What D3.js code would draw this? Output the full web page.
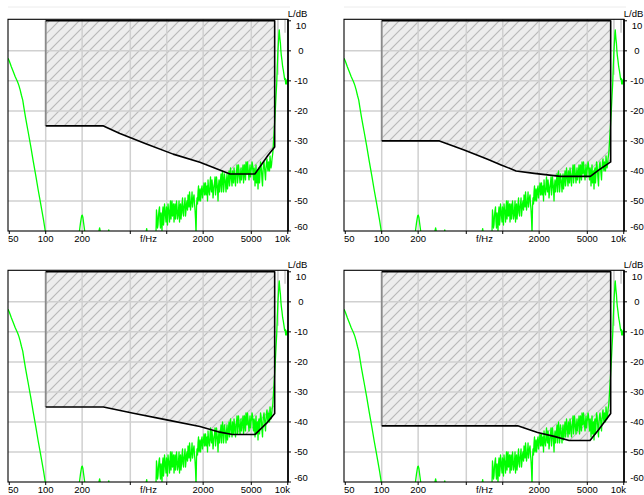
<!DOCTYPE html>
<html>
<head>
<meta charset="utf-8">
<script src="https://cdn.jsdelivr.net/npm/d3@7"></script>
<style>
  body { margin: 0; background: #fff; }
  svg { display: block; font-family: Arial, "Liberation Sans", sans-serif; }
</style>
</head>
<body>
<div id="chart"></div>
<script>
// axis ticks
const freqTicks = [50, 100, 200, 500, 1000, 2000, 5000, 10000];
const freqLabels = [[50, "50"], [100, "100"], [200, "200"], [707, "f/Hz"], [2000, "2000"], [5000, "5000"], [10000, "10k"]];
const freqGrid = [100, 200, 500, 1000, 2000, 5000];
const levelTicks = [10, 0, -10, -20, -30, -40, -50, -60];
const levelGrid = [0, -10, -20, -30, -40, -50];
const markerFreqs = [[8300, -8], [9500, 6]];   // short grey markers near the tone

// measured spectrum (same in all four panels): [f/Hz, L/dB]
const spectrumMain = [
  [48.8,-2.5],[50,-3.4],[52,-5.3],[54,-7],[56,-8.6],[58.5,-10.3],[60,-11.5],[61.5,-13],[63,-14.8],
  [64.6,-16.4],[66,-18.8],[68,-22],[70,-24.8],[71.4,-26.7],[75,-31.5],[79,-36.9],[83,-41.8],
  [86.9,-46.6],[90,-50],[93,-53.2],[96,-56.4],[98.7,-59.5],[101,-62],[104,-65],[150,-68],[185,-63],
  [190,-60],[194,-57.2],[198,-55],[200.5,-54.7],[203,-55.5],[206,-57.5],[210,-60],[214,-63],
  [250,-64],[272,-61],[279,-59],[284,-60.5],[300,-63],[326,-61],[332,-59.6],[338,-61.5],
  [400,-66],[600,-64],[672,-61],[683,-59.2],[694,-61.5],[760,-65],[800,-63],
  [816,-60],[831,-55],[847,-58],[864,-53],[880,-57],[897,-54],[914,-60],[932,-52],[950,-56],
  [968,-53],[987,-57],[1006,-55],[1025,-51],[1045,-54],[1065,-52],[1085,-56],[1106,-50],
  [1127,-53],[1149,-57],[1171,-51],[1194,-54],[1217,-52],[1240,-55],[1264,-50],[1288,-53],
  [1313,-56],[1338,-51],[1364,-54],[1390,-52],[1417,-49],[1444,-53],[1472,-50],[1500,-48],
  [1529,-52],[1558,-49],[1588,-51],[1619,-47],[1650,-50],[1681,-48],[1714,-53],[1747,-61],
  [1780,-49],[1814,-47],[1849,-50],[1885,-46],[1921,-48],[1958,-45],[1995,-47],[2034,-44],
  [2073,-46],[2113,-48],[2153,-45],[2195,-43],[2237,-47],[2280,-44],[2323,-46],[2368,-43],
  [2414,-49],[2460,-45],[2507,-42],[2555,-46],[2604,-44],[2654,-50],[2705,-43],[2757,-45],
  [2810,-41],[2864,-44],[2919,-42],[2975,-45],[3032,-43],[3090,-47],[3150,-41],[3210,-44],
  [3272,-40],[3335,-43],[3399,-41],[3464,-45],[3531,-42],[3599,-39],[3668,-43],[3738,-41],
  [3810,-38],[3883,-42],[3958,-40],[4034,-44],[4111,-39],[4190,-41],[4271,-38],[4353,-42],
  [4436,-40],[4521,-37],[4608,-41],[4697,-39],[4787,-43],[4879,-38],[4973,-40],[5068,-37],
  [5166,-41],[5265,-39],[5366,-45],[5469,-38],[5574,-42],[5681,-46],[5790,-39],[5901,-41],
  [6015,-38],[6130,-43],[6248,-40],[6368,-37],[6490,-41],[6615,-39],[6742,-36],[6871,-40],
  [7003,-38],[7138,-35],[7275,-39],[7415,-36],
  [7530,-34],[7700,-27.5],[7900,-19.7],[8000,-15],[8106,-10.9],[8200,-5],[8300,0],[8400,3.5],
  [8460,6],[8508,7],[8560,5.5],[8620,4],[8700,2.5],[8780,0],[8850,-1.5],[8950,-3],[9080,-5.3],
  [9200,-6.5],[9320,-8],[9430,-9.5],[9540,-9.2],[9620,-11],[9700,-10],[9800,-11],[9880,-9.5],
  [10000,-10.5]
];
// extra bins in between, noise region
const spectrumMid = [
  [823,-53],[839,-59],[855,-55],[872,-52],[888,-59],[905,-56],[923,-54],[941,-58],[959,-51],
  [977,-55],[996,-52],[1015,-58],[1035,-53],[1055,-57],[1075,-50],[1095,-53],[1116,-55],
  [1138,-51],[1160,-54],[1182,-56],[1205,-50],[1228,-56],[1252,-53],[1276,-57],[1300,-51],
  [1325,-54],[1351,-49],[1377,-55],[1403,-51],[1430,-55],[1458,-51],[1486,-53],[1514,-50],
  [1543,-47],[1573,-53],[1603,-50],[1634,-52],[1665,-49],[1697,-51],[1730,-56],[1763,-52],
  [1797,-51],[1831,-45],[1867,-48],[1903,-50],[1939,-46],[1976,-49],[2014,-46],[2053,-48],
  [2093,-44],[2133,-47],[2174,-50],[2216,-46],[2258,-48],[2301,-42],[2345,-47],[2391,-45],
  [2437,-47],[2483,-44],[2531,-48],[2579,-42],[2629,-46],[2679,-45],[2731,-47],[2783,-43],
  [2837,-47],[2891,-40],[2947,-47],[3003,-41],[3061,-44],[3120,-43],[3180,-46],[3241,-42],
  [3303,-45],[3367,-39],[3431,-43],[3497,-40],[3565,-44],[3633,-41],[3703,-45],[3774,-40],
  [3846,-44],[3920,-38],[3996,-42],[4072,-41],[4150,-43],[4230,-40],[4312,-44],[4394,-38],
  [4478,-43],[4564,-39],[4652,-37],[4742,-41],[4833,-40],[4926,-42],[5020,-39],[5117,-38],
  [5215,-43],[5315,-40],[5417,-41],[5521,-44],[5627,-40],[5735,-40],[5845,-44],[5958,-37],
  [6072,-40],[6189,-45],[6308,-38],[6429,-39],[6552,-43],[6678,-37],[6806,-39],[6937,-37],
  [7070,-40],[7206,-37],[7345,-38]
];
const spectrum = spectrumMain.concat(spectrumMid).sort((a, b) => a[0] - b[0]);

// limit masks (lower boundary of the hatched area), [f/Hz, L/dB]
const maskTop = 10;
const mask1 = [[100,-25],[300,-25],[410,-27.5],[680,-31],[1130,-34.4],[1880,-37.1],[3330,-41],[5350,-41],[6900,-34.7],[7800,-32]];
const mask2 = [[100,-30],[300,-30],[480,-33],[750,-36.1],[970,-38],[1290,-40],[1820,-40.8],[3000,-41.8],[5300,-41.8],[6200,-39.7],[7800,-37]];
const mask3 = [[100,-35],[300,-35],[530,-37.1],[1000,-39.3],[1880,-41.5],[2750,-43.4],[3500,-44.2],[5350,-44.2],[6700,-40.4],[7800,-37.2]];
const mask4 = [[100,-41.3],[1330,-41.3],[1940,-43.5],[2660,-44.8],[3540,-46.2],[5260,-46.2],[6200,-42.6],[7800,-37.2]];

const panels = [
  { col: 0, row: 0, mask: mask1 },
  { col: 1, row: 0, mask: mask2 },
  { col: 0, row: 1, mask: mask3 },
  { col: 1, row: 1, mask: mask4 }
];

const W = 644, H = 495;
const colStep = 336, rowStep = 251;

const svg = d3.select("#chart").append("svg")
  .attr("width", W).attr("height", H);

const defs = svg.append("defs");
const pat = defs.append("pattern")
  .attr("id", "hatch")
  .attr("patternUnits", "userSpaceOnUse")
  .attr("width", 10).attr("height", 10);
pat.append("rect").attr("width", 10).attr("height", 10).attr("fill", "#ededed");
pat.append("path")
  .attr("d", "M-1,1 l2,-2 M0,10 l10,-10 M9,11 l2,-2")
  .attr("stroke", "#b9b9b9").attr("stroke-width", 1.2);

panels.forEach(function(p, i) {
  const ox = p.col * colStep, oy = p.row * rowStep;
  const left = ox + 8, right = ox + 288, top = oy + 19.3, bottom = oy + 231;

  const x = d3.scaleLog().domain([48.8, 10050]).range([left, right]);
  const y = d3.scaleLinear().domain([-60, 10.5]).range([bottom, top]);

  const g = svg.append("g");

  defs.append("clipPath").attr("id", "clip" + i)
    .append("rect").attr("x", left).attr("y", top)
    .attr("width", right - left).attr("height", bottom - top);

  // faint line above the top panels
  if (p.row === 0) {
    g.append("line")
      .attr("x1", left).attr("x2", right + 2)
      .attr("y1", oy + 7).attr("y2", oy + 7)
      .attr("stroke", "#ececec").attr("stroke-width", 1);
  }

  // hatched area
  const m = p.mask;
  const poly = m.concat([[m[m.length - 1][0], maskTop], [m[0][0], maskTop]]);
  const line = d3.line().x(d => x(d[0])).y(d => y(d[1]));
  g.append("path")
    .attr("d", line(poly) + "Z")
    .attr("fill", "url(#hatch)");

  // grid
  g.selectAll(".hg").data(levelGrid).enter().append("line")
    .attr("x1", left).attr("x2", right)
    .attr("y1", d => y(d)).attr("y2", d => y(d))
    .attr("stroke", "#d0d0d0").attr("stroke-width", 1.5);
  g.selectAll(".vg").data(freqGrid).enter().append("line")
    .attr("x1", d => x(d)).attr("x2", d => x(d))
    .attr("y1", top).attr("y2", bottom)
    .attr("stroke", "#d0d0d0").attr("stroke-width", 1.5);
  g.selectAll(".mk").data(markerFreqs).enter().append("line")
    .attr("x1", d => x(d[0])).attr("x2", d => x(d[0]))
    .attr("y1", top).attr("y2", d => y(d[1]))
    .attr("stroke", "#c8c8c8").attr("stroke-width", 1.5);

  const clipped = g.append("g").attr("clip-path", "url(#clip" + i + ")");

  // spectrum
  clipped.append("path")
    .datum(spectrum)
    .attr("fill", "none")
    .attr("stroke", "#00ff00")
    .attr("stroke-width", 1.3)
    .attr("stroke-linejoin", "round")
    .attr("d", line);

  // mask outline: grey left edge, black elsewhere
  clipped.append("path")
    .attr("d", line([[m[0][0], maskTop], m[0]]))
    .attr("stroke", "#8a8a8a").attr("stroke-width", 1.8).attr("fill", "none");
  clipped.append("path")
    .attr("d", line(poly))
    .attr("stroke", "#000").attr("stroke-width", 1.6).attr("fill", "none")
    .attr("stroke-linejoin", "round");

  // frame
  g.append("rect")
    .attr("x", left).attr("y", top)
    .attr("width", right - left).attr("height", bottom - top)
    .attr("fill", "none").attr("stroke", "#000").attr("stroke-width", 1.1);
  g.append("line")
    .attr("x1", right).attr("x2", right).attr("y1", top).attr("y2", bottom)
    .attr("stroke", "#000").attr("stroke-width", 1.6);

  // x ticks and labels
  g.selectAll(".xt").data(freqTicks).enter().append("line")
    .attr("x1", d => x(d)).attr("x2", d => x(d))
    .attr("y1", bottom).attr("y2", bottom + 3)
    .attr("stroke", "#000").attr("stroke-width", 1);
  g.selectAll(".xl").data(freqLabels).enter().append("text")
    .attr("x", d => d[0] === 50 ? left : d[0] === 10000 ? right + 2 : x(d[0]))
    .attr("y", bottom + 10.5)
    .attr("text-anchor", d => d[0] === 50 ? "start" : d[0] === 10000 ? "end" : "middle")
    .style("font-size", "9.5px")
    .attr("fill", "#000")
    .text(d => d[1]);

  // y ticks and labels (right side)
  g.selectAll(".yt").data(levelTicks).enter().append("line")
    .attr("x1", right).attr("x2", right + 3)
    .attr("y1", d => y(d)).attr("y2", d => y(d))
    .attr("stroke", "#000").attr("stroke-width", 1);
  g.selectAll(".yl").data(levelTicks).enter().append("text")
    .attr("x", right + 13)
    .attr("y", d => y(d) + (d === 10 ? 5 : d === -60 ? -4.5 : 0))
    .attr("dy", "0.35em")
    .attr("text-anchor", "middle")
    .style("font-size", "9.5px")
    .attr("fill", "#000")
    .text(d => d);

  g.append("text")
    .attr("x", right + 9.5).attr("y", top - 2.6)
    .attr("text-anchor", "middle")
    .style("font-size", "9.5px")
    .attr("fill", "#000")
    .text("L/dB");
});
</script>
</body>
</html>
